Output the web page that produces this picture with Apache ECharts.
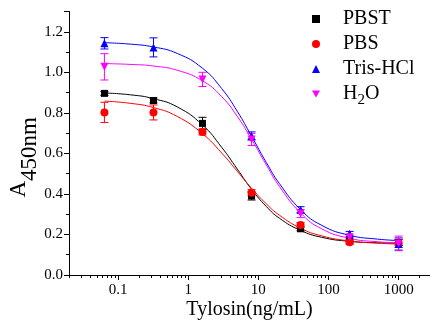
<!DOCTYPE html>
<html>
<head>
<meta charset="utf-8">
<script src="https://cdn.jsdelivr.net/npm/echarts@6/dist/echarts.min.js"></script>
<style>
  html, body {margin: 0; padding: 0; background: #fff;}
  #chart {width: 430px; height: 327px;}
</style>
</head>
<body>
<div id="chart"></div>
<script>
// measured points (x = tylosin concentration, ng/mL)
const conc = [0.064, 0.32, 1.6, 8, 40, 200, 1000];
const pbst = [0.896, 0.861, 0.748, 0.390, 0.228, 0.168, 0.160];
const pbstErr = [0.010, 0.012, 0.030, 0.020, 0.010, 0.010, 0.015];
const pbs = [0.802, 0.802, 0.706, 0.406, 0.247, 0.161, 0.156];
const pbsErr = [0.050, 0.037, 0.015, 0.015, 0.012, 0.010, 0.020];
const tris = [1.143, 1.123, null, 0.686, 0.322, 0.203, 0.153];
const trisErr = [0.028, 0.047, null, 0.020, 0.015, 0.012, 0.030];
const h2o = [1.027, null, 0.965, 0.669, 0.303, 0.186, 0.156];
const h2oErr = [0.065, null, 0.035, 0.030, 0.020, 0.012, 0.036];

// fitted curves
const fitConc = [0.064, 0.15, 0.32, 0.7, 1.6, 3, 5, 8, 13, 20, 40, 80, 200, 500, 1000];
const pbstFit = [0.898, 0.889, 0.870, 0.829, 0.740, 0.630, 0.523, 0.423, 0.338, 0.280, 0.220, 0.186, 0.166, 0.159, 0.157];
const pbsFit = [0.858, 0.847, 0.826, 0.782, 0.697, 0.602, 0.512, 0.428, 0.351, 0.295, 0.231, 0.193, 0.168, 0.157, 0.153];
const trisFit = [1.146, 1.139, 1.125, 1.093, 1.020, 0.920, 0.808, 0.685, 0.555, 0.451, 0.323, 0.245, 0.196, 0.177, 0.170];
const h2oFit = [1.043, 1.039, 1.031, 1.010, 0.958, 0.880, 0.783, 0.670, 0.543, 0.437, 0.306, 0.228, 0.181, 0.164, 0.159];

const names = ['PBST', 'PBS', 'Tris-HCl', 'H2O'];
const colors = ['#000000', '#ff0000', '#0000ff', '#ff00ff'];
const symbols = ['rect', 'circle', 'triangle', 'triangle'];
const rotates = [0, 0, 0, 180];

// log-axis tick positions
const xMajorTicks = [0.1, 1, 10, 100, 1000];
const xMinorTicks = [0.02, 0.03, 0.04, 0.05, 0.06, 0.07, 0.08, 0.09,
  0.2, 0.3, 0.4, 0.5, 0.6, 0.7, 0.8, 0.9,
  2, 3, 4, 5, 6, 7, 8, 9,
  20, 30, 40, 50, 60, 70, 80, 90,
  200, 300, 400, 500, 600, 700, 800, 900, 2000];

const FONT = 'Liberation Serif';
const values = [pbst, pbs, tris, h2o];
const errs = [pbstErr, pbsErr, trisErr, h2oErr];
const fits = [pbstFit, pbsFit, trisFit, h2oFit];

function pairs(xs, ys) {
  return xs.map((x, i) => [x, ys[i]]).filter(d => d[1] != null);
}

function errorBar(color) {
  return function (params, api) {
    const x = api.value(0);
    const top = api.coord([x, api.value(1) + api.value(2)]);
    const bot = api.coord([x, api.value(1) - api.value(2)]);
    const cap = 4;
    const style = {stroke: color, lineWidth: 1};
    return {
      type: 'group',
      children: [
        {type: 'line', shape: {x1: top[0], y1: top[1], x2: bot[0], y2: bot[1]}, style},
        {type: 'line', shape: {x1: top[0] - cap, y1: top[1], x2: top[0] + cap, y2: top[1]}, style},
        {type: 'line', shape: {x1: bot[0] - cap, y1: bot[1], x2: bot[0] + cap, y2: bot[1]}, style}
      ]
    };
  };
}

const series = [];
names.forEach((name, k) => {
  series.push({
    name: name + ' err',
    type: 'custom',
    renderItem: errorBar(colors[k]),
    data: conc.map((x, i) => [x, values[k][i], errs[k][i]]).filter(d => d[1] != null),
    z: 2
  });
  series.push({
    name: name + ' fit',
    type: 'line',
    data: pairs(fitConc, fits[k]),
    smooth: true,
    showSymbol: false,
    lineStyle: {color: colors[k], width: 1},
    silent: true,
    z: 3
  });
});
names.forEach((name, k) => {
  series.push({
    name: name,
    type: 'scatter',
    data: pairs(conc, values[k]),
    symbol: symbols[k],
    symbolRotate: rotates[k],
    symbolSize: k === 0 ? 7 : 8,
    itemStyle: {color: colors[k], opacity: 1},
    z: 4
  });
});

const legendData = names.map((name, k) => k === 3
  ? {name: name, icon: 'path://M0,0 L10,0 L5,9 Z'}
  : {name: name});

const chart = echarts.init(document.getElementById('chart'));
chart.setOption({
  animation: false,
  backgroundColor: '#fff',
  textStyle: {fontFamily: FONT, color: '#000'},
  grid: {left: 69, right: 0, top: 11.5, bottom: 52, containLabel: false, outerBoundsMode: 'none'},
  legend: {
    data: legendData,
    orient: 'vertical',
    left: 307,
    top: 4,
    itemWidth: 8,
    itemHeight: 8,
    itemGap: 5,
    textStyle: {
      fontFamily: FONT, fontSize: 20, color: '#000',
      rich: {
        n: {fontFamily: FONT, fontSize: 20, color: '#000', padding: [0, 0, 0, 18]},
        h: {fontFamily: FONT, fontSize: 20, color: '#000', padding: [0, 0, 0, 18]},
        o: {fontFamily: FONT, fontSize: 20, color: '#000'},
        s: {fontFamily: FONT, fontSize: 15, color: '#000', padding: [12, 0, 0, 0]}
      }
    },
    formatter: function (name) {
      return name === 'H2O' ? '{h|H}{s|2}{o|O}' : '{n|' + name + '}';
    }
  },
  xAxis: [{
    type: 'log',
    min: 0.02,
    max: 2800,
    position: 'bottom',
    name: 'Tylosin(ng/mL)',
    nameLocation: 'middle',
    nameGap: 25,
    nameMoveOverlap: false,
    nameTextStyle: {fontFamily: FONT, fontSize: 20, color: '#000'},
    axisLine: {lineStyle: {color: '#000', width: 1}},
    axisTick: {length: 5, lineStyle: {color: '#000'}, customValues: xMajorTicks},
    axisLabel: {
      fontFamily: FONT, fontSize: 15, color: '#000', margin: 8,
      customValues: xMajorTicks,
      formatter: v => String(v)
    },
    splitLine: {show: false}
  }, {
    type: 'log',
    min: 0.02,
    max: 2800,
    position: 'bottom',
    offset: 0,
    axisLine: {show: false},
    axisTick: {show: true, length: 3, lineStyle: {color: '#000'}, customValues: xMinorTicks},
    axisLabel: {show: false},
    splitLine: {show: false}
  }],
  yAxis: {
    type: 'value',
    min: 0,
    max: 1.3,
    interval: 0.2,
    name: '{a|A}{s|450nm}',
    nameLocation: 'middle',
    nameRotate: 90,
    nameGap: 28,
    nameMoveOverlap: false,
    nameTextStyle: {
      rich: {
        a: {fontFamily: FONT, fontSize: 23, color: '#000', padding: [0, 0, 11, 0]},
        s: {fontFamily: FONT, fontSize: 23, color: '#000', padding: [11, 28, 0, 0]}
      }
    },
    axisLine: {show: true, lineStyle: {color: '#000', width: 1}},
    axisTick: {show: true, length: 5, lineStyle: {color: '#000'}},
    minorTick: {show: true, splitNumber: 2, length: 3, lineStyle: {color: '#000'}},
    axisLabel: {
      fontFamily: FONT, fontSize: 15, color: '#000', margin: 6,
      showMaxLabel: false,
      formatter: v => v.toFixed(1)
    },
    splitLine: {show: false}
  },
  series: series
});
</script>
</body>
</html>
